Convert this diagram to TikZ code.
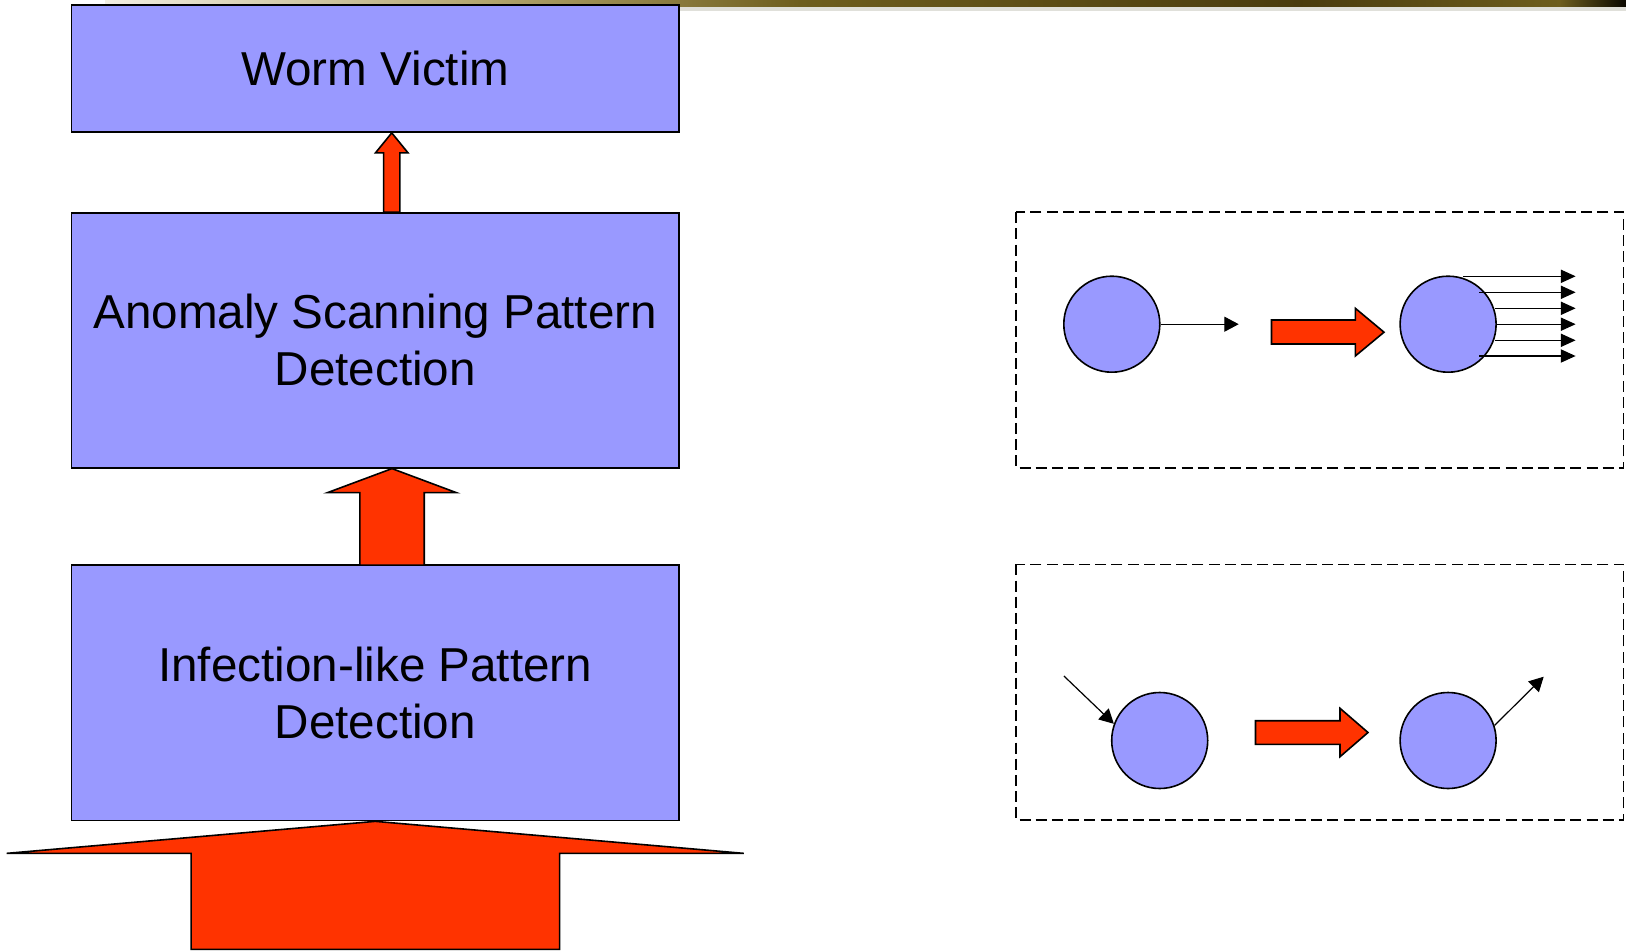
\documentclass[tikz,border=0pt]{standalone}
\usepackage{fontspec}
\setmainfont{Liberation Sans}
\usetikzlibrary{arrows.meta,calc}
\definecolor{boxblue}{HTML}{9999FF}
\definecolor{arrred}{HTML}{FF3300}
\definecolor{barA}{HTML}{F2EEE2}
\definecolor{barB}{HTML}{B0A26A}
\definecolor{barC}{HTML}{6E5E1E}
\definecolor{barD}{HTML}{4A3C0E}
\definecolor{barE}{HTML}{0A0800}
\definecolor{stripgray}{HTML}{E0E0DA}
\begin{document}
\begin{tikzpicture}[x=0.5pt,y=-0.5pt,
  layerbox/.style={draw=black,fill=boxblue,line width=0.9pt,rectangle,
    minimum width=303.75pt,align=center,inner sep=0pt,
    font=\fontsize{23.8pt}{28.5pt}\selectfont},
  blockarrow/.style={draw=black,fill=arrred,line width=0.8pt,line join=miter},
  frame/.style={draw=black,line width=0.8pt,dash pattern=on 5.5pt off 2.6pt},
  host/.style={circle,draw=black,fill=boxblue,line width=0.8pt,minimum size=48pt,inner sep=0pt},
  thinarrow/.style={draw=black,line width=0.6pt,-{Triangle[length=7.2pt,width=7.5pt]}},
  fanarrow/.style={draw=black,line width=0.6pt,-{Triangle[length=7.4pt,width=6.6pt]}}
]
\useasboundingbox (0,0) rectangle (1626,952);
% top header bar
\shade[left color=barA,right color=barB] (105,0) rectangle (500,7);
\shade[left color=barB,right color=barC] (499,0) rectangle (800,7);
\shade[left color=barC,right color=barD] (799,0) rectangle (1300,7);
\shade[left color=barD,right color=barC] (1299,0) rectangle (1560,7);
\shade[left color=barC,right color=barE] (1559,0) rectangle (1626,7);
\fill[stripgray] (679,7) rectangle (1626,11);

% left stack
\node[layerbox,minimum height=63.5pt] (victim) at (375.25,68.5) {Worm Victim};
\node[layerbox,minimum height=127.5pt] (anomaly) at (375.25,340.2) {Anomaly Scanning Pattern\\Detection};
\node[layerbox,minimum height=127.75pt] (infection) at (375.25,692.7) {Infection-like Pattern\\Detection};

% block arrows (upward)
\coordinate (t1) at ($(victim.south)+(16.5,0)$);
\draw[blockarrow] (t1) -- ++(16.3,20) -- ++(-8.2,0) -- ++(0,59.4) -- ++(-16.2,0)
  -- ++(0,-59.4) -- ++(-8.2,0) -- cycle;
\coordinate (t2) at ($(anomaly.south)+(16.75,0)$);
\draw[blockarrow] (t2) -- ++(64.2,24) -- ++(-32,0) -- ++(0,72.5) -- ++(-64.4,0)
  -- ++(0,-72.5) -- ++(-32.2,0) -- cycle;
\coordinate (t3) at (infection.south);
\draw[blockarrow] (t3) -- ++(368.5,32) -- ++(-184.2,0) -- ++(0,96) -- ++(-368.4,0)
  -- ++(0,-96) -- ++(-184.4,0) -- cycle;

% right: upper frame
\draw[frame] (1016,212.3) rectangle (1623.5,468);
\node[host] (c1) at (1111.8,324.2) {};
\node[host] (c2) at (1448.1,324.2) {};
\coordinate (c1out) at (1238.7,324.2);
\draw[thinarrow] (c1.east) -- (c1out);
\draw[blockarrow] (1271.5,320) -- (1355.3,320) -- (1355.3,308.3) -- (1384,332.2)
  -- (1355.3,356) -- (1355.3,344) -- (1271.5,344) -- cycle;
\foreach \dx/\dy in {14.9/-47.9,30.9/-31.9,46.9/-15.9,47.9/0,46.9/16.1,30.9/31.8}{
  \draw[fanarrow] ($(c2)+(\dx,\dy)$) -- ($(1575.6,324.2)+(0,\dy)$);
}

% right: lower frame
\draw[frame] (1016,564.3) rectangle (1623.5,820);
\node[host] (c3) at (1159.7,740.5) {};
\node[host] (c4) at (1448.1,740.5) {};
\coordinate (in3) at (1063.9,676);
\coordinate (out4) at (1543.7,676.7);
\draw[thinarrow] (in3) -- (c3.160);
\draw[thinarrow] (c4.18) -- (out4);
\draw[blockarrow] (1255.5,720.7) -- (1340,720.7) -- (1340,708.3) -- (1368,732.5)
  -- (1340,756.7) -- (1340,744.3) -- (1255.5,744.3) -- cycle;
\end{tikzpicture}
\end{document}
